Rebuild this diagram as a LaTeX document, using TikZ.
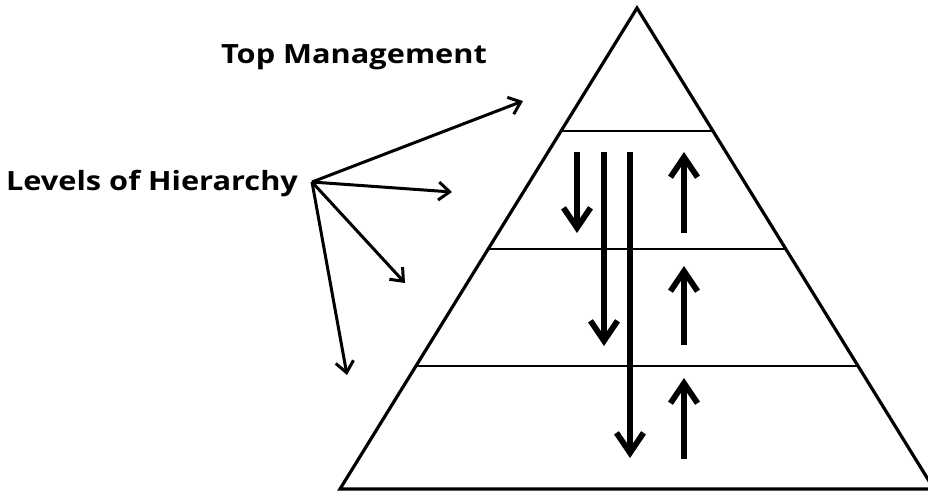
\documentclass[tikz,border=0pt]{standalone}
\usepackage{fontspec}
\setmainfont{Open Sans}
\usetikzlibrary{arrows.meta,calc}
\newcommand{\widetext}[1]{\scalebox{1.16}[1]{#1}}
\begin{document}
\begin{tikzpicture}[x=1pt,y=-1pt,
  label/.style={font=\bfseries\fontsize{26.5}{30}\selectfont, inner sep=0pt},
  edge/.style={line width=3.2pt, line join=miter},
  tier/.style={line width=1.3pt},
  flow/.style={line width=5.8pt, -{Straight Barb[length=20pt,width=27pt,line width=5.8pt]}},
  pointer/.style={line width=3pt, -{Straight Barb[length=11pt,width=18pt,line width=3pt]}}]
  \useasboundingbox (0,0) rectangle (928,491);
  \clip (0,0) rectangle (928,491);

  % pyramid
  \coordinate (apex) at (637,8);
  \coordinate (bl) at (340,489);
  \coordinate (br) at (934,489);
  \draw[edge] (bl) -- (apex) -- (br) -- cycle;

  % tier separators
  \foreach \t/\n in {0.2557/a,0.501/b,0.744/c}{
    \coordinate (l\n) at ($(apex)!\t!(bl)$);
    \coordinate (r\n) at ($(apex)!\t!(br)$);
    \draw[tier] (l\n) -- (r\n);
  }

  % labels
  \node[label] (top) at (354,57) {\widetext{Top Management}};
  \node[label] (levels) at (152,184) {\widetext{Levels of Hierarchy}};

  % pointers from the hierarchy label
  \coordinate (fan) at (312,182);
  \coordinate (p1) at (523,101);
  \coordinate (p2) at (452,192);
  \coordinate (p3) at (405,283);
  \coordinate (p4) at (347,375);
  \foreach \p in {p1,p2,p3,p4}
    \draw[pointer] (fan) -- (\p);

  % downward communication
  \coordinate (d1s) at (577,152); \coordinate (d1e) at (577,233);
  \coordinate (d2s) at (604,152); \coordinate (d2e) at (604,346);
  \coordinate (d3s) at (630,152); \coordinate (d3e) at (630,458);
  \draw[flow] (d1s) -- (d1e);
  \draw[flow] (d2s) -- (d2e);
  \draw[flow] (d3s) -- (d3e);

  % upward communication
  \coordinate (u1s) at (684,233); \coordinate (u1e) at (684,152);
  \coordinate (u2s) at (684,345); \coordinate (u2e) at (684,266);
  \coordinate (u3s) at (684,459); \coordinate (u3e) at (684,378);
  \draw[flow] (u1s) -- (u1e);
  \draw[flow] (u2s) -- (u2e);
  \draw[flow] (u3s) -- (u3e);
\end{tikzpicture}
\end{document}
